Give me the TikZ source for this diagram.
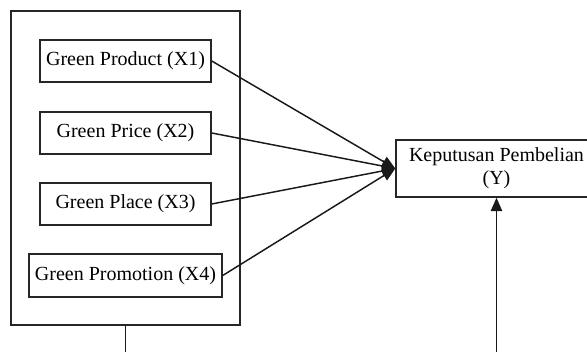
\documentclass[tikz,border=0pt]{standalone}
\usepackage{fontspec}
\setmainfont{Liberation Serif}
\usetikzlibrary{arrows.meta}
\begin{document}
\begin{tikzpicture}[x=0.75pt,y=-0.75pt,
  box/.style={draw=black!85,line width=1.1pt,rectangle,inner sep=0pt,font=\fontsize{15}{17.5}\selectfont},
  link/.style={line width=1.1pt,draw=black!90},
  tip/.style={-{Triangle[length=10pt,width=8.5pt]}}]
\useasboundingbox (0,0) rectangle (587,352);
\clip (0,0) rectangle (587,352);
\node[box,minimum width=229*0.75pt,minimum height=314*0.75pt] (outer) at (125.5,168) {};
\node[box,minimum width=171*0.75pt,minimum height=42*0.75pt] (x1) at (125.5,61) {Green Product (X1)};
\node[box,minimum width=171*0.75pt,minimum height=42*0.75pt] (x2) at (125.5,133) {Green Price (X2)};
\node[box,minimum width=171*0.75pt,minimum height=42*0.75pt] (x3) at (125.5,204) {Green Place (X3)};
\node[box,minimum width=193*0.75pt,minimum height=43*0.75pt] (x4) at (125.5,275.5) {Green Promotion (X4)};
\node[box,minimum width=201*0.75pt,minimum height=57*0.75pt,align=center] (y) at (496.5,168.5) {Keputusan Pembelian\\(Y)};
\coordinate (b1) at (125.5,360);
\coordinate (b2) at (496.5,360);
\draw[link,tip] (x1.east) -- (y.west);
\draw[link,tip] (x2.east) -- (y.west);
\draw[link,tip] (x3.east) -- (y.west);
\draw[link,tip] (x4.east) -- (y.west);
\draw[link] (outer.south) -- (b1);
\draw[link,tip] (b2) -- (y.south);
\end{tikzpicture}
\end{document}
